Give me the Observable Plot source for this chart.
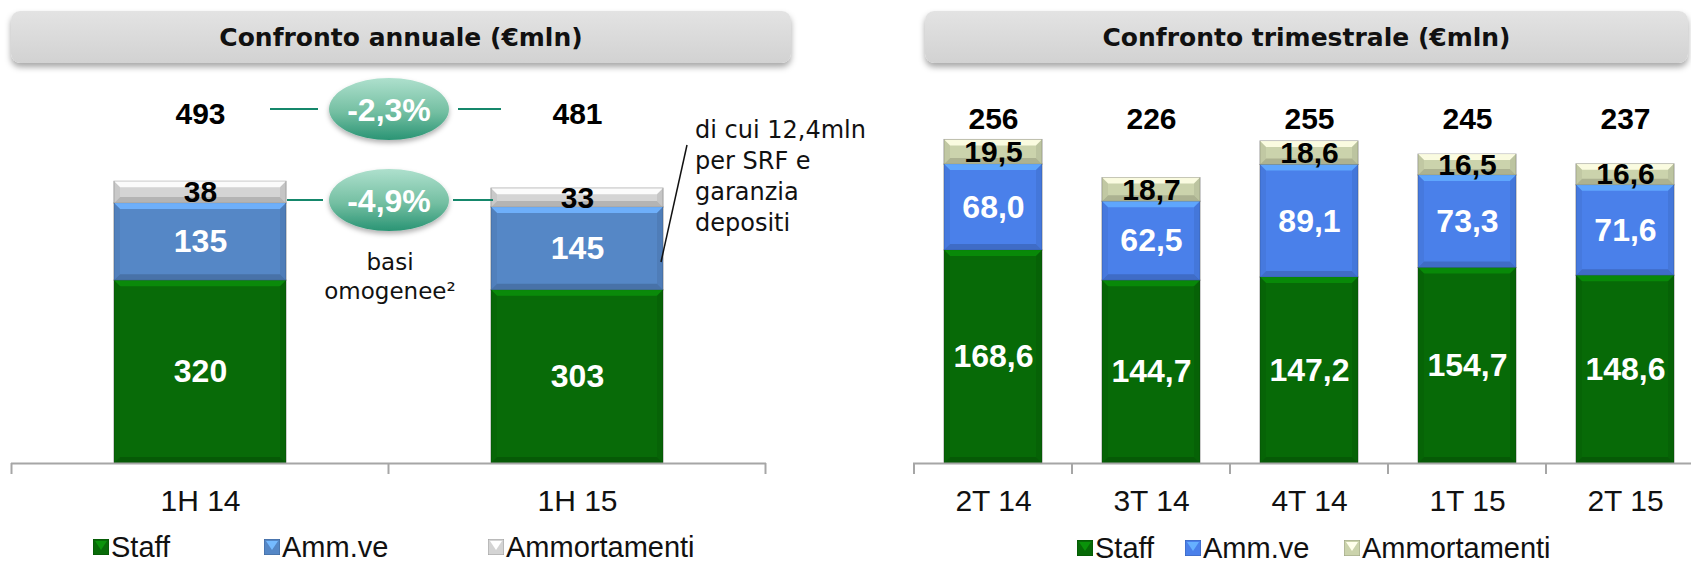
<!DOCTYPE html>
<html>
<head>
<meta charset="utf-8">
<script src="https://cdn.jsdelivr.net/npm/d3@7"></script>
<script src="https://cdn.jsdelivr.net/npm/@observablehq/plot@0.6"></script>
<style>
  body { margin: 0; background: #fff; }
  #root { position: relative; width: 1691px; height: 566px; overflow: hidden; background: #fff; }
  .titlebox { position: absolute; height: 52px; border-radius: 9px;
    background: linear-gradient(#e3e3e3, #d2d2d2); box-shadow: 0 4px 6px rgba(0,0,0,0.35);
    display: flex; align-items: center; justify-content: center;
    font: bold 25px "DejaVu Sans", sans-serif; color: #111; }
  .chart { position: absolute; top: 0; height: 566px; }
  .chart svg { overflow: visible; max-width: none !important; display: block; }
  .legend { position: absolute; font: 29px "Liberation Sans", Arial, sans-serif; color: #111;
    display: flex; align-items: center; white-space: nowrap; line-height: 22px; height: 22px; }
  .legend svg { margin-right: 2px; }
  #overlay { position: absolute; left: 0; top: 0; pointer-events: none; }
</style>
</head>
<body>
<div id="root">
  <div class="titlebox" id="t1" style="left:11px;top:11px;width:780px;"></div>
  <div class="titlebox" id="t2" style="left:925px;top:11px;width:763px;"></div>
  <div class="chart" id="left" style="left:0px;width:780px;"></div>
  <div class="chart" id="right" style="left:880px;width:830px;"></div>
  <svg id="overlay" width="1691" height="566"></svg>
</div>
<script>
// ---------- data ----------
const titles = ["Confronto annuale (€mln)", "Confronto trimestrale (€mln)"];
const seriesNames = ["Staff", "Amm.ve", "Ammortamenti"];

const annualCats = ["1H 14", "1H 15"];
const annualStaff = [320, 303];
const annualAmm = [135, 145];
const annualDep = [38, 33];
const annualTotals = [493, 481];
const annualDeltas = ["-2,3%", "-4,9%"];
const homogeneousNote = ["basi", "omogenee²"];
const srfNote = ["di cui 12,4mln", "per SRF e", "garanzia", "depositi"];

const quarterCats = ["2T 14", "3T 14", "4T 14", "1T 15", "2T 15"];
const quarterStaff = [168.6, 144.7, 147.2, 154.7, 148.6];
const quarterAmm = [68.0, 62.5, 89.1, 73.3, 71.6];
const quarterDep = [19.5, 18.7, 18.6, 16.5, 16.6];
const quarterTotals = [256, 226, 255, 245, 237];

const annualColors = ["#086b08", "#5587c6", "#d4d4d4"];
const quarterColors = ["#076a07", "#4a80ea", "#cbd3ac"];

// ---------- helpers ----------
const NS = "http://www.w3.org/2000/svg";
function rows(cats, staff, amm, dep) {
  return cats.flatMap((c, i) => [
    {cat: c, series: "Staff", value: staff[i]},
    {cat: c, series: "Amm.ve", value: amm[i]},
    {cat: c, series: "Ammortamenti", value: dep[i]}
  ]);
}
const fmtInt = v => String(Math.round(v));
const fmtDec = v => v.toFixed(1).replace(".", ",");

function poly(parent, pts, fill, op) {
  const p = document.createElementNS(NS, "polygon");
  p.setAttribute("points", pts.map(q => q.join(",")).join(" "));
  p.setAttribute("fill", fill);
  p.setAttribute("fill-opacity", op);
  p.setAttribute("stroke", "none");
  parent.appendChild(p);
}

function bevel(svg) {
  svg.querySelectorAll('g[aria-label="bar"] rect').forEach(r => {
    const x = +r.getAttribute("x"), y = +r.getAttribute("y");
    const w = +r.getAttribute("width"), h = +r.getAttribute("height");
    const c = d3.color(r.getAttribute("fill"));
    const b = Math.min(6, h / 3, w / 4);
    const g = r.parentNode;
    poly(g, [[x, y], [x + w, y], [x + w - b, y + b], [x + b, y + b]], c.brighter(0.8).formatHex(), 0.9);
    poly(g, [[x, y + h], [x + w, y + h], [x + w - b, y + h - b], [x + b, y + h - b]], c.darker(0.6).formatHex(), 0.8);
    poly(g, [[x, y], [x + b, y + b], [x + b, y + h - b], [x, y + h]], c.darker(0.25).formatHex(), 0.6);
    poly(g, [[x + w, y], [x + w - b, y + b], [x + w - b, y + h - b], [x + w, y + h]], c.darker(0.35).formatHex(), 0.6);
  });
}

function makeChart(o) {
  const data = rows(o.cats, o.staff, o.amm, o.dep);
  const chart = Plot.plot({
    width: o.width, height: 566,
    marginLeft: o.marginLeft, marginRight: o.marginRight, marginTop: o.marginTop, marginBottom: 103,
    style: {background: "transparent", fontFamily: "'Liberation Sans', Arial, sans-serif", color: "#111"},
    x: {domain: o.cats, paddingInner: o.pad, paddingOuter: o.pad / 2, label: null},
    y: {domain: [0, o.yMax], axis: null},
    color: {domain: seriesNames, range: o.colors},
    marks: [
      Plot.barY(data, {x: "cat", y: "value", fill: "series", stroke: "rgba(0,0,0,0.4)", strokeWidth: 1}),
      Plot.ruleY([0], {stroke: "#a6a6a6", strokeWidth: 2}),
      Plot.text(data, Plot.stackY({x: "cat", y: "value",
        text: d => d.series !== "Ammortamenti" ? o.fmt(d.value) : null,
        fill: "white", fontWeight: "bold", fontSize: o.segFont})),
      Plot.text(data, Plot.stackY({x: "cat", y: "value",
        text: d => d.series === "Ammortamenti" ? o.fmt(d.value) : null,
        fill: "black", fontWeight: "bold", fontSize: o.depFont})),
      Plot.text(o.cats, {x: d => d, text: (d, i) => String(o.totals[i]),
        frameAnchor: "top", dy: o.totDy, fill: "black", fontWeight: "bold", fontSize: o.totFont}),
      Plot.axisX({tickSize: 0, tickPadding: 26, fontSize: 30, fill: "#111", label: null})
    ]
  });
  bevel(chart);
  // category boundary ticks (Excel-style), from the band scale
  const sx = chart.scale("x"), sy = chart.scale("y");
  const y0 = sy.apply(0);
  const gap = (sx.step - sx.bandwidth) / 2;
  const bounds = sx.domain.map(d => sx.apply(d) - gap);
  bounds.push(sx.apply(sx.domain[sx.domain.length - 1]) + sx.bandwidth + gap);
  d3.select(chart).append("g").selectAll("line").data(bounds).join("line")
    .attr("x1", d => d).attr("x2", d => d).attr("y1", y0).attr("y2", y0 + 11)
    .attr("stroke", "#a6a6a6").attr("stroke-width", 2);
  return chart;
}

document.getElementById("t1").textContent = titles[0];
document.getElementById("t2").textContent = titles[1];

document.getElementById("left").appendChild(makeChart({
  cats: annualCats, staff: annualStaff, amm: annualAmm, dep: annualDep, totals: annualTotals,
  colors: annualColors, width: 780, marginLeft: 11, marginRight: 14, marginTop: 63, yMax: 700,
  pad: 0.544, fmt: fmtInt, segFont: 32, depFont: 30, totFont: 30, totDy: 39
}));
document.getElementById("right").appendChild(makeChart({
  cats: quarterCats, staff: quarterStaff, amm: quarterAmm, dep: quarterDep, totals: quarterTotals,
  colors: quarterColors, width: 830, marginLeft: 33, marginRight: 4.5, marginTop: 84, yMax: 300,
  pad: 0.382, fmt: fmtDec, segFont: 32, depFont: 30, totFont: 30, totDy: 23
}));

// ---------- legends ----------
function legend(items, colors, top) {
  items.forEach((name, i) => {
    const div = document.createElement("div");
    div.className = "legend";
    div.style.left = (items.lefts[i]) + "px";
    div.style.top = top + "px";
    const c = d3.color(colors[i]);
    div.innerHTML = `<svg width="16" height="16"><rect width="16" height="16" fill="${c.formatHex()}" stroke="${c.darker(0.8).formatHex()}" stroke-width="1"/>`
      + `<polygon points="2,2 14,2 8,11" fill="${c.brighter(0.9).formatHex()}"/></svg><span>${name}</span>`;
    document.getElementById("root").appendChild(div);
  });
}
const leftLegend = seriesNames.slice(); leftLegend.lefts = [93, 264, 488];
const rightLegend = seriesNames.slice(); rightLegend.lefts = [1077, 1185, 1344];
legend(leftLegend, annualColors, 536);
legend(rightLegend, quarterColors, 537);

// ---------- annotations (overlay) ----------
const ov = d3.select("#overlay");
const defs = ov.append("defs");
const eg = defs.append("linearGradient").attr("id", "ellG").attr("x1", 0).attr("y1", 0).attr("x2", 0).attr("y2", 1);
eg.append("stop").attr("offset", "0%").attr("stop-color", "#aee0cd");
eg.append("stop").attr("offset", "55%").attr("stop-color", "#74bfa2");
eg.append("stop").attr("offset", "100%").attr("stop-color", "#2a9474");
const fl = defs.append("filter").attr("id", "sh").attr("x", "-20%").attr("y", "-20%").attr("width", "140%").attr("height", "150%");
fl.append("feDropShadow").attr("dx", 0).attr("dy", 3).attr("stdDeviation", 2.5).attr("flood-color", "#000").attr("flood-opacity", 0.3);

const ellipses = [{cx: 389, cy: 109, label: annualDeltas[0], l: [270, 318], r: [458, 501]},
                  {cx: 389, cy: 200, label: annualDeltas[1], l: [287, 323], r: [453, 493]}];
ellipses.forEach(e => {
  ov.append("line").attr("x1", e.l[0]).attr("x2", e.l[1]).attr("y1", e.cy).attr("y2", e.cy).attr("stroke", "#15876b").attr("stroke-width", 2);
  ov.append("line").attr("x1", e.r[0]).attr("x2", e.r[1]).attr("y1", e.cy).attr("y2", e.cy).attr("stroke", "#15876b").attr("stroke-width", 2);
  ov.append("ellipse").attr("cx", e.cx).attr("cy", e.cy).attr("rx", 60).attr("ry", 31).attr("fill", "url(#ellG)").attr("filter", "url(#sh)");
  ov.append("text").attr("x", e.cx).attr("y", e.cy).attr("dy", "0.36em").attr("text-anchor", "middle")
    .attr("fill", "white").attr("font-weight", "bold").attr("font-size", 32)
    .attr("font-family", "'Liberation Sans', Arial, sans-serif").text(e.label);
});
homogeneousNote.forEach((t, i) => {
  ov.append("text").attr("x", 390).attr("y", 262 + i * 29).attr("dy", "0.35em").attr("text-anchor", "middle")
    .attr("font-size", 23).attr("font-family", "'DejaVu Sans', sans-serif").attr("fill", "#111").text(t);
});
srfNote.forEach((t, i) => {
  ov.append("text").attr("x", 695).attr("y", 130 + i * 31).attr("dy", "0.35em")
    .attr("font-size", 24).attr("font-family", "'DejaVu Sans', sans-serif").attr("fill", "#111").text(t);
});
ov.append("line").attr("x1", 661).attr("y1", 262).attr("x2", 687).attr("y2", 145).attr("stroke", "#111").attr("stroke-width", 1.5);
</script>
</body>
</html>
